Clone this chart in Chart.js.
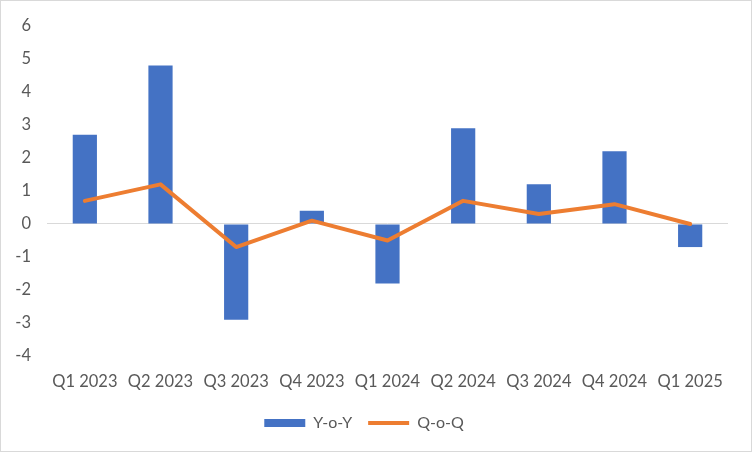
<!DOCTYPE html>
<html>
<head>
<meta charset="utf-8">
<script src="https://cdn.jsdelivr.net/npm/chart.js@4.4.1/dist/chart.umd.min.js"></script>
<style>
html,body{margin:0;padding:0;background:#fff;}
#wrap{position:relative;width:752px;height:452px;}
</style>
</head>
<body>
<div id="wrap"><canvas id="c" width="752" height="452"></canvas></div>
<script>
const categories = ["Q1 2023","Q2 2023","Q3 2023","Q4 2023","Q1 2024","Q2 2024","Q3 2024","Q4 2024","Q1 2025"];
const yoy = [2.7, 4.8, -2.9, 0.4, -1.8, 2.9, 1.2, 2.2, -0.7];
const qoq = [0.7, 1.2, -0.7, 0.1, -0.5, 0.7, 0.3, 0.6, 0.0];
const yMin = -4, yMax = 6, yStep = 1;

const FONT = "Lato, 'Liberation Sans', sans-serif";
const TXT = '#595959';

const borderPlugin = {
  id: 'outerBorder',
  beforeDraw(chart) {
    const c = chart.ctx;
    c.save();
    c.fillStyle = '#ffffff';
    c.fillRect(0, 0, chart.width, chart.height);
    c.restore();
  },
  afterDraw(chart) {
    const c = chart.ctx;
    c.save();
    c.strokeStyle = '#d9d9d9';
    c.lineWidth = 1;
    c.strokeRect(0.5, 0.5, chart.width - 1, chart.height - 1);
    c.restore();
  }
};

new Chart(document.getElementById('c'), {
  data: {
    labels: categories,
    datasets: [
      {
        type: 'bar',
        label: 'Y-o-Y',
        data: yoy,
        backgroundColor: '#4472C4',
        borderWidth: 0,
        barPercentage: 0.32,
        categoryPercentage: 1.0,
        pointStyle: 'rect',
        order: 1
      },
      {
        type: 'line',
        label: 'Q-o-Q',
        data: qoq,
        borderColor: '#ED7D31',
        backgroundColor: '#ED7D31',
        borderWidth: 4,
        pointRadius: 0,
        tension: 0,
        borderJoinStyle: 'round',
        borderCapStyle: 'round',
        pointStyle: 'line',
        order: 0
      }
    ]
  },
  options: {
    responsive: false,
    animation: false,
    devicePixelRatio: 1,
    layout: { padding: { top: 24, right: 24, left: 0, bottom: 11 } },
    plugins: {
      tooltip: { enabled: false },
      legend: {
        position: 'bottom',
        labels: {
          usePointStyle: true,
          pointStyleWidth: 41,
          boxHeight: 8,
          padding: 16,
          color: TXT,
          font: { family: FONT, size: 16 },
          sort: (a, b) => a.datasetIndex - b.datasetIndex
        }
      }
    },
    scales: {
      x: {
        grid: { display: false, drawTicks: false },
        border: { display: false },
        ticks: { color: TXT, font: { family: FONT, size: 16.5 }, padding: 16, maxRotation: 0 },
        afterFit(s) { s.height = 43; }
      },
      y: {
        min: yMin, max: yMax,
        ticks: { stepSize: yStep, color: TXT, font: { family: FONT, size: 16.5 }, padding: 16 },
        grid: {
          drawTicks: false,
          color: (ctx) => (ctx.tick && ctx.tick.value === 0) ? '#d9d9d9' : 'rgba(0,0,0,0)',
          lineWidth: 1
        },
        border: { display: false },
        afterFit(s) { s.width = 47; }
      }
    }
  },
  plugins: [borderPlugin]
});
</script>
</body>
</html>
